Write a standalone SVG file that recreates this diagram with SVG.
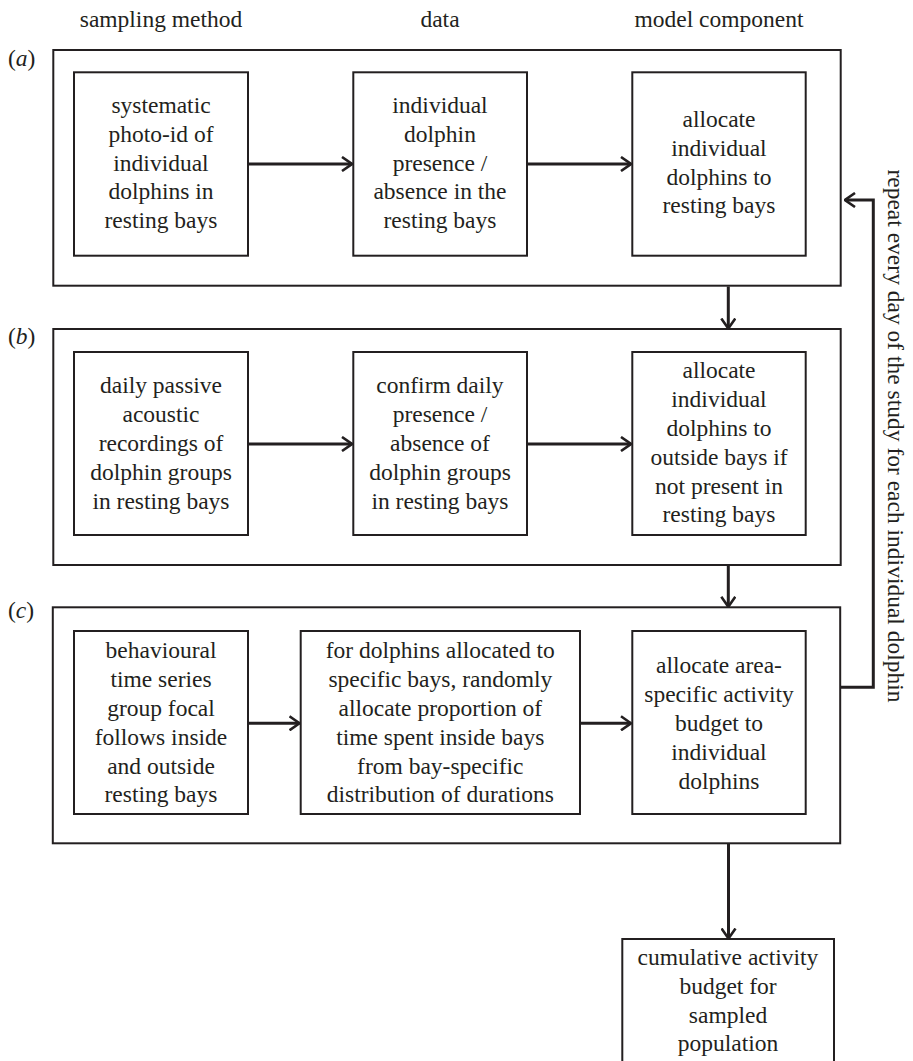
<svg xmlns="http://www.w3.org/2000/svg" width="913" height="1061" viewBox="0 0 913 1061">
<defs>
<style>
text{font-family:"Liberation Serif","Times New Roman",serif;font-size:23.5px;fill:#231f20}
.c{text-anchor:middle}
.box{fill:#fff;stroke:#231f20;stroke-width:2}
.panel{fill:none;stroke:#231f20;stroke-width:2}
.ln{fill:none;stroke:#231f20;stroke-width:3}
</style>
<marker id="ah" viewBox="0 0 12 16" refX="11" refY="8" markerWidth="12" markerHeight="16" markerUnits="userSpaceOnUse" orient="auto">
<path d="M1,1 L11,8 L1,15" fill="none" stroke="#231f20" stroke-width="2.6"/>
</marker>
</defs>
<rect width="913" height="1061" fill="#fff"/>
<g id="headers">
<text class="c" x="161" y="27">sampling method</text>
<text class="c" x="440" y="27">data</text>
<text class="c" x="719" y="27">model component</text>
</g>
<g id="panel-a">
<rect class="panel" x="53.3" y="50" width="787.4" height="235.7"/>
<text x="8" y="66">(<tspan font-style="italic">a</tspan>)</text>
</g>
<g id="panel-b">
<rect class="panel" x="53.3" y="329" width="787.4" height="236"/>
<text x="8" y="344">(<tspan font-style="italic">b</tspan>)</text>
</g>
<g id="panel-c">
<rect class="panel" x="52.8" y="607.3" width="787.4" height="236"/>
<text x="8" y="618">(<tspan font-style="italic">c</tspan>)</text>
</g>
<g id="a1">
<rect class="box" x="74" y="72.3" width="174" height="183.4"/>
<text class="c" x="161"><tspan x="161" y="113">systematic</tspan><tspan x="161" y="141.8">photo-id of</tspan><tspan x="161" y="170.6">individual</tspan><tspan x="161" y="199.4">dolphins in</tspan><tspan x="161" y="228.2">resting bays</tspan></text>
</g>
<g id="a2">
<rect class="box" x="353.3" y="72.3" width="173.7" height="183.4"/>
<text class="c" x="440"><tspan x="440" y="113">individual</tspan><tspan x="440" y="141.8">dolphin</tspan><tspan x="440" y="170.6">presence /</tspan><tspan x="440" y="199.4">absence in the</tspan><tspan x="440" y="228.2">resting bays</tspan></text>
</g>
<g id="a3">
<rect class="box" x="632.3" y="72.3" width="173.4" height="183.4"/>
<text class="c" x="719"><tspan x="719" y="127">allocate</tspan><tspan x="719" y="155.8">individual</tspan><tspan x="719" y="184.6">dolphins to</tspan><tspan x="719" y="213.4">resting bays</tspan></text>
</g>
<g id="b1">
<rect class="box" x="74" y="352" width="174" height="183"/>
<text class="c" x="161"><tspan x="161" y="393.3">daily passive</tspan><tspan x="161" y="422.1">acoustic</tspan><tspan x="161" y="450.9">recordings of</tspan><tspan x="161" y="479.7">dolphin groups</tspan><tspan x="161" y="508.5">in resting bays</tspan></text>
</g>
<g id="b2">
<rect class="box" x="353.3" y="352" width="173.7" height="183"/>
<text class="c" x="440"><tspan x="440" y="393.3">confirm daily</tspan><tspan x="440" y="422.1">presence /</tspan><tspan x="440" y="450.9">absence of</tspan><tspan x="440" y="479.7">dolphin groups</tspan><tspan x="440" y="508.5">in resting bays</tspan></text>
</g>
<g id="b3">
<rect class="box" x="632.3" y="352" width="173.4" height="183"/>
<text class="c" x="719"><tspan x="719" y="378.3">allocate</tspan><tspan x="719" y="407.1">individual</tspan><tspan x="719" y="435.9">dolphins to</tspan><tspan x="719" y="464.7">outside bays if</tspan><tspan x="719" y="493.5">not present in</tspan><tspan x="719" y="522.3">resting bays</tspan></text>
</g>
<g id="c1">
<rect class="box" x="74" y="631" width="174" height="183"/>
<text class="c" x="161"><tspan x="161" y="658.3">behavioural</tspan><tspan x="161" y="687.1">time series</tspan><tspan x="161" y="715.9">group focal</tspan><tspan x="161" y="744.7">follows inside</tspan><tspan x="161" y="773.5">and outside</tspan><tspan x="161" y="802.3">resting bays</tspan></text>
</g>
<g id="c2">
<rect class="box" x="300.7" y="631" width="279.3" height="183"/>
<text class="c" x="440.3"><tspan x="440.3" y="658.3">for dolphins allocated to</tspan><tspan x="440.3" y="687.1">specific bays, randomly</tspan><tspan x="440.3" y="715.9">allocate proportion of</tspan><tspan x="440.3" y="744.7">time spent inside bays</tspan><tspan x="440.3" y="773.5">from bay-specific</tspan><tspan x="440.3" y="802.3">distribution of durations</tspan></text>
</g>
<g id="c3">
<rect class="box" x="632.3" y="631" width="173.4" height="183"/>
<text class="c" x="719"><tspan x="719" y="673.3">allocate area-</tspan><tspan x="719" y="702.1">specific activity</tspan><tspan x="719" y="730.9">budget to</tspan><tspan x="719" y="759.7">individual</tspan><tspan x="719" y="788.5">dolphins</tspan></text>
</g>
<g id="final">
<rect class="box" x="622.3" y="939" width="211.7" height="130"/>
<text class="c" x="728"><tspan x="728" y="965">cumulative activity</tspan><tspan x="728" y="993.8">budget for</tspan><tspan x="728" y="1022.6">sampled</tspan><tspan x="728" y="1051.4">population</tspan></text>
</g>
<g id="loop-label">
<text class="c" transform="translate(888,436) rotate(90)">repeat every day of the study for each individual dolphin</text>
</g>
<g id="connectors">
<line class="ln" x1="248" y1="164" x2="352" y2="164" marker-end="url(#ah)"/>
<line class="ln" x1="527" y1="164" x2="631" y2="164" marker-end="url(#ah)"/>
<line class="ln" x1="248" y1="444" x2="352" y2="444" marker-end="url(#ah)"/>
<line class="ln" x1="527" y1="444" x2="631" y2="444" marker-end="url(#ah)"/>
<line class="ln" x1="248" y1="723.3" x2="299.5" y2="723.3" marker-end="url(#ah)"/>
<line class="ln" x1="580" y1="723.3" x2="631" y2="723.3" marker-end="url(#ah)"/>
<line class="ln" x1="728.3" y1="286.5" x2="728.3" y2="328.5" marker-end="url(#ah)"/>
<line class="ln" x1="728.3" y1="566" x2="728.3" y2="606.8" marker-end="url(#ah)"/>
<line class="ln" x1="728.5" y1="844" x2="728.5" y2="938.5" marker-end="url(#ah)"/>
<polyline class="ln" points="840.5,687.3 873.3,687.3 873.3,200 845,200" marker-end="url(#ah)"/>
</g>
</svg>
